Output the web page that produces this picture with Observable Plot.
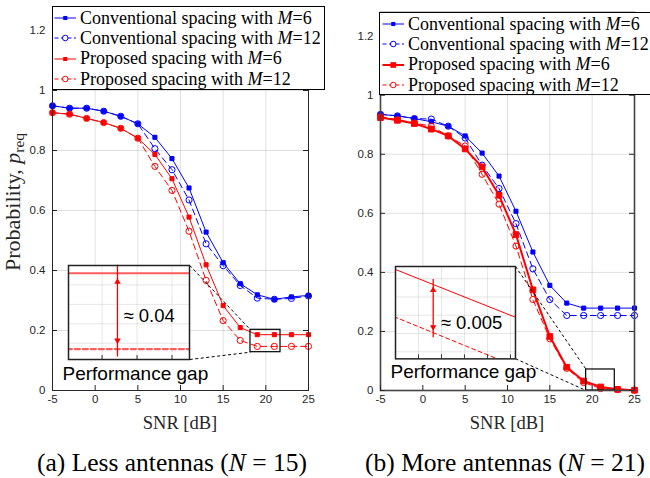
<!DOCTYPE html>
<html><head><meta charset="utf-8">
<script src="https://cdn.jsdelivr.net/npm/d3@7"></script>
<script src="https://cdn.jsdelivr.net/npm/@observablehq/plot@0.6"></script>
<style>
body{margin:0;background:#fff;}
#root{position:relative;width:650px;height:478px;overflow:hidden;background:#fff;}
.legend{position:absolute;background:#fff;border:1px solid #000;box-sizing:border-box;font-family:"Liberation Serif","Times New Roman",serif;font-size:18px;color:#000;padding-top:1px;}
.lrow{display:flex;align-items:center;height:20.3px;white-space:nowrap;}
.lrow svg{flex:none;}
.txt{position:absolute;white-space:nowrap;font-family:"Liberation Serif","Times New Roman",serif;color:#000;}
</style></head>
<body><div id="root"></div>
<script>
// ---------- data ----------
const snr = [-5,-3,-1,1,3,5,7,9,11,13,15,17,19,21,23,25];
// (a) N = 15
const aConv6  = [0.949,0.941,0.941,0.931,0.914,0.889,0.844,0.773,0.675,0.528,0.426,0.356,0.319,0.304,0.312,0.317];
const aConv12 = [0.949,0.941,0.941,0.931,0.914,0.889,0.806,0.736,0.635,0.489,0.416,0.350,0.308,0.304,0.307,0.315];
const aProp6  = [0.926,0.921,0.907,0.893,0.874,0.841,0.787,0.706,0.578,0.419,0.283,0.210,0.186,0.186,0.186,0.186];
const aProp12 = [0.926,0.921,0.907,0.893,0.874,0.841,0.747,0.667,0.531,0.367,0.233,0.167,0.147,0.147,0.147,0.147];
// (b) N = 21
const bConv6  = [0.935,0.930,0.921,0.910,0.895,0.862,0.804,0.726,0.607,0.469,0.356,0.296,0.279,0.279,0.279,0.279];
const bConv12 = [0.935,0.930,0.921,0.919,0.895,0.855,0.763,0.684,0.565,0.412,0.308,0.254,0.254,0.254,0.254,0.254];
const bProp6  = [0.924,0.915,0.904,0.885,0.862,0.818,0.757,0.661,0.528,0.341,0.183,0.079,0.032,0.012,0.004,0.001];
const bProp12 = [0.927,0.917,0.906,0.895,0.862,0.828,0.732,0.631,0.489,0.308,0.175,0.075,0.027,0.0065,0.003,0.001];

const xTicks = [-5,0,5,10,15,20,25];
const yTicks = [0,0.2,0.4,0.6,0.8,1,1.2];
const xDomain = [-5,25];
const yDomain = [0,1.28];

const legendLabels = [
  ["Conventional spacing with ","M","=6"],
  ["Conventional spacing with ","M","=12"],
  ["Proposed spacing with ","M","=6"],
  ["Proposed spacing with ","M","=12"]
];
const xLabel = "SNR [dB]";
const yLabelParts = ["Probability, ","p","req"];
const gapTitle = "Performance gap";
const captionA = ["(a) Less antennas (","N"," = 15)"];
const captionB = ["(b) More antennas (","N"," = 21)"];
const gapLabelA = "≈ 0.04";
const gapLabelB = "≈ 0.005";

// ---------- styles ----------
const seriesStyles = [
  {color:"#0000ff", width:1, dash:null,  symbol:"square", r:2.3, fill:"#0000ff"},
  {color:"#0000ff", width:1, dash:"6,4", symbol:"circle", r:3.1, fill:"none"},
  {color:"#ff0000", width:1, dash:null,  symbol:"square", r:2.3, fill:"#ff0000"},
  {color:"#ff0000", width:1, dash:"6,4", symbol:"circle", r:3.1, fill:"none"}
];

const panels = [
  {left:0, width:325, mL:52, mR:17, mT:6, mB:20, height:410,
   series:[aConv6,aConv12,aProp6,aProp12], frameW:1, frameCol:"#262626", override:{},
   insetBox:{x1:-3.09,x2:11.09,y1:0.1033,y2:0.4167},
   zoomBox:{x1:18.2,x2:21.72,y1:0.1277,y2:0.2023},
   insetX:[19.02,20.75], insetY:[0.1416,0.190],
   insetXTicks:[19.5,20,20.5], insetYTicks:[0.15,0.16,0.17,0.18],
   insetColor:"#ff5c5c", insetWidth:2.2, insetDash:"5,3",
   arrowX:19.72, tip:5, gapLabel:gapLabelA, labelX:19.806, labelY:0.164,
   gapText:{x:-3.83,y:0.0557},
   legend:{left:52, top:6, width:273, height:84, pad:1},
   xLabelCenter:180, caption:captionA, captionCenter:172},
  {left:330, width:320, mL:50, mR:16, mT:12, mB:20, height:410,
   series:[bConv6,bConv12,bProp6,bProp12], frameW:1.6, frameCol:"#444", override:{2:{width:2, r:3.2}},
   insetBox:{x1:-3.228,x2:10.944,y1:0.1075,y2:0.4203},
   zoomBox:{x1:19.29,x2:22.67,y1:0,y2:0.0712},
   insetX:[19.9,20.422], insetY:[0.01323,0.02333],
   insetXTicks:[20,20.1,20.2,20.3,20.4], insetYTicks:[0.014,0.016,0.018,0.020,0.022],
   insetColor:"#ff0000", insetWidth:1, insetDash:"4,3",
   arrowX:20.064, tip:2, gapLabel:gapLabelB, labelX:20.097, labelY:0.01717,
   gapText:{x:-3.82,y:0.062},
   legend:{left:379, top:12, width:290, height:83, pad:2},
   xLabelCenter:507, caption:captionB, captionCenter:505}
];

const root = d3.select("#root");
const fmtX = d => d < 0 ? "-" + Math.abs(d) : String(d);
const fmtY = d => String(d);
const rows = vals => snr.map((x,i) => ({x, y: vals[i]}));
const styleOf = (p,i) => Object.assign({}, seriesStyles[i], p.override[i] || {});

function insetPlot(p, w, h){
  const s6 = rows(p.series[2]), s12 = rows(p.series[3]);
  const f6 = d3.scaleLinear(snr, p.series[2]), f12 = d3.scaleLinear(snr, p.series[3]);
  const arrow = [{x:p.arrowX, y1:f12(p.arrowX), y2:f6(p.arrowX)}];
  return Plot.plot({
    width:w, height:h, margin:0,
    x:{domain:p.insetX, axis:null}, y:{domain:p.insetY, axis:null},
    style:{fontFamily:"'Liberation Sans',Arial,sans-serif", background:"white", overflow:"visible"},
    marks:[
      Plot.frame({fill:"white"}),
      Plot.gridX(p.insetXTicks, {stroke:"#000", strokeOpacity:0.1}),
      Plot.gridY(p.insetYTicks, {stroke:"#000", strokeOpacity:0.1}),
      Plot.tickX(p.insetXTicks, {x:d=>d, insetTop:h-4, stroke:"#333"}),
      Plot.line(s6, {x:"x", y:"y", stroke:p.insetColor, strokeWidth:p.insetWidth, clip:true}),
      Plot.line(s12, {x:"x", y:"y", stroke:p.insetColor, strokeWidth:p.insetWidth, strokeDasharray:p.insetDash, clip:true}),
      Plot.ruleX(arrow, {x:"x", y1:"y1", y2:"y2", stroke:"#ff0000", strokeWidth:1.3, insetTop:p.tip+3, insetBottom:p.tip+3}),
      Plot.dot(arrow, {x:"x", y:"y2", symbol:"triangle", r:2.4, fill:"#ff0000", dy:p.tip+3.6}),
      Plot.dot(arrow, {x:"x", y:"y1", symbol:"triangle", r:2.4, fill:"#ff0000", rotate:180, dy:-(p.tip+3.6)}),
      Plot.text([{x:p.labelX, y:p.labelY, t:p.gapLabel}], {x:"x", y:"y", text:"t", textAnchor:"start", lineAnchor:"middle", fontSize:18.5, fill:"#000"}),
      Plot.frame({stroke:"#222", strokeWidth:1.5})
    ]
  });
}

function drawPanel(p){
  const pw = p.width - p.mL - p.mR, ph = p.height - p.mT - p.mB;
  const tickCol = "#262626";
  const seriesMarks = [];
  p.series.forEach((vals, i) => {
    const st = styleOf(p, i);
    const data = rows(vals);
    seriesMarks.push(Plot.line(data, {x:"x", y:"y", stroke:st.color, strokeWidth:st.width, strokeDasharray:st.dash}));
    seriesMarks.push(Plot.dot(data, {x:"x", y:"y", symbol:st.symbol, r:st.r, fill:st.fill, stroke:st.color, strokeWidth:1}));
  });
  const ib = p.insetBox, zb = p.zoomBox;
  const svg = Plot.plot({
    width:p.width, height:p.height, marginLeft:p.mL, marginRight:p.mR, marginTop:p.mT, marginBottom:p.mB,
    x:{domain:xDomain}, y:{domain:yDomain},
    style:{fontFamily:"'Liberation Sans',Arial,sans-serif", fontSize:"11.5px", background:"transparent", overflow:"visible"},
    marks:[
      Plot.gridX(xTicks, {stroke:"#000", strokeOpacity:0.12}),
      Plot.gridY(yTicks, {stroke:"#000", strokeOpacity:0.12}),
      Plot.rect([{x1:p.gapText.x - 0.3, x2:ib.x2, y1:0, y2:ib.y1}], {x1:"x1", x2:"x2", y1:"y1", y2:"y2", fill:"white"}),
      ...seriesMarks,
      Plot.link([{x1:ib.x2, y1:ib.y2, x2:zb.x1, y2:zb.y2},{x1:ib.x2, y1:ib.y1, x2:zb.x1, y2:zb.y1}],
        {x1:"x1", y1:"y1", x2:"x2", y2:"y2", stroke:"#000", strokeDasharray:"3,2.5"}),
      Plot.rect([zb], {x1:"x1", x2:"x2", y1:"y1", y2:"y2", fill:"none", stroke:"#000", strokeWidth:1.2}),
      Plot.text([{x:p.gapText.x, y:p.gapText.y, t:gapTitle}], {x:"x", y:"y", text:"t", textAnchor:"start", lineAnchor:"middle", fontSize:19, fill:"#000"}),
      Plot.frame({stroke:p.frameCol, strokeWidth:p.frameW}),
      Plot.tickX(xTicks, {x:d=>d, insetTop:ph-5, stroke:tickCol}),
      Plot.tickY(yTicks, {y:d=>d, insetRight:pw-5, stroke:tickCol}),
      Plot.tickY(yTicks, {y:d=>d, insetLeft:pw-5, stroke:tickCol}),
      Plot.axisX({ticks:xTicks, tickSize:0, tickPadding:4, tickFormat:fmtX, label:null, color:tickCol}),
      Plot.axisY({ticks:yTicks, tickSize:0, tickPadding:7, tickFormat:fmtY, label:null, color:tickCol})
    ]
  });
  const sx = svg.scale("x"), sy = svg.scale("y");
  d3.select(svg).style("position","absolute").style("left",p.left+"px").style("top","0px").style("max-width","none");
  root.node().appendChild(svg);

  // inset
  const ix1 = sx.apply(ib.x1), ix2 = sx.apply(ib.x2), iy1 = sy.apply(ib.y2), iy2 = sy.apply(ib.y1);
  const ins = insetPlot(p, ix2 - ix1, iy2 - iy1);
  d3.select(ins).style("position","absolute").style("left",(p.left+ix1)+"px").style("top",iy1+"px").style("max-width","none");
  root.node().appendChild(ins);

  // legend
  const L = p.legend;
  const lg = root.append("div").attr("class","legend")
    .style("left",L.left+"px").style("top",L.top+"px").style("width",L.width+"px").style("height",L.height+"px")
    .style("padding-left",L.pad+"px");
  legendLabels.forEach((lab, i) => {
    const st = styleOf(p, i);
    const row = lg.append("div").attr("class","lrow");
    const s = row.append("svg").attr("width",24).attr("height",20);
    s.append("line").attr("x1",0.5).attr("x2",22).attr("y1",10).attr("y2",10)
      .attr("stroke",st.color).attr("stroke-width",st.width).attr("stroke-dasharray", st.dash ? "4,2.5" : null);
    if (st.symbol === "square") {
      const a = st.r * 1.77;
      s.append("rect").attr("x",11.25-a/2).attr("y",10-a/2).attr("width",a).attr("height",a).attr("fill",st.color);
    } else {
      s.append("circle").attr("cx",11.25).attr("cy",10).attr("r",st.r*0.9).attr("fill","white").attr("stroke",st.color);
    }
    const t = row.append("span").style("margin-left","2px");
    t.append("span").text(lab[0]);
    t.append("i").text(lab[1]);
    t.append("span").text(lab[2]);
  });

  // x label
  root.append("div").attr("class","txt").text(xLabel)
    .style("left",p.xLabelCenter+"px").style("top","414px").style("font-size","18.5px")
    .style("line-height","18.5px").style("transform","translateX(-50%)").style("color","#262626");

  // caption
  const c = root.append("div").attr("class","txt")
    .style("left",p.captionCenter+"px").style("top","450px").style("font-size","25.5px")
    .style("line-height","26px").style("transform","translateX(-50%)");
  c.append("span").text(p.caption[0]);
  c.append("i").text(p.caption[1]);
  c.append("span").text(p.caption[2]);
}

panels.forEach(drawPanel);

// y label (left panel)
const yl = root.append("div").attr("class","txt")
  .style("left","16px").style("top","202px").style("font-size","22px").style("line-height","22px")
  .style("transform","translate(-50%,-50%) rotate(-90deg)").style("color","#262626");
yl.append("span").text(yLabelParts[0]);
yl.append("i").text(yLabelParts[1]);
yl.append("span").style("font-size","0.7em").style("vertical-align","-0.3em").text(yLabelParts[2]);
</script>
</body></html>
